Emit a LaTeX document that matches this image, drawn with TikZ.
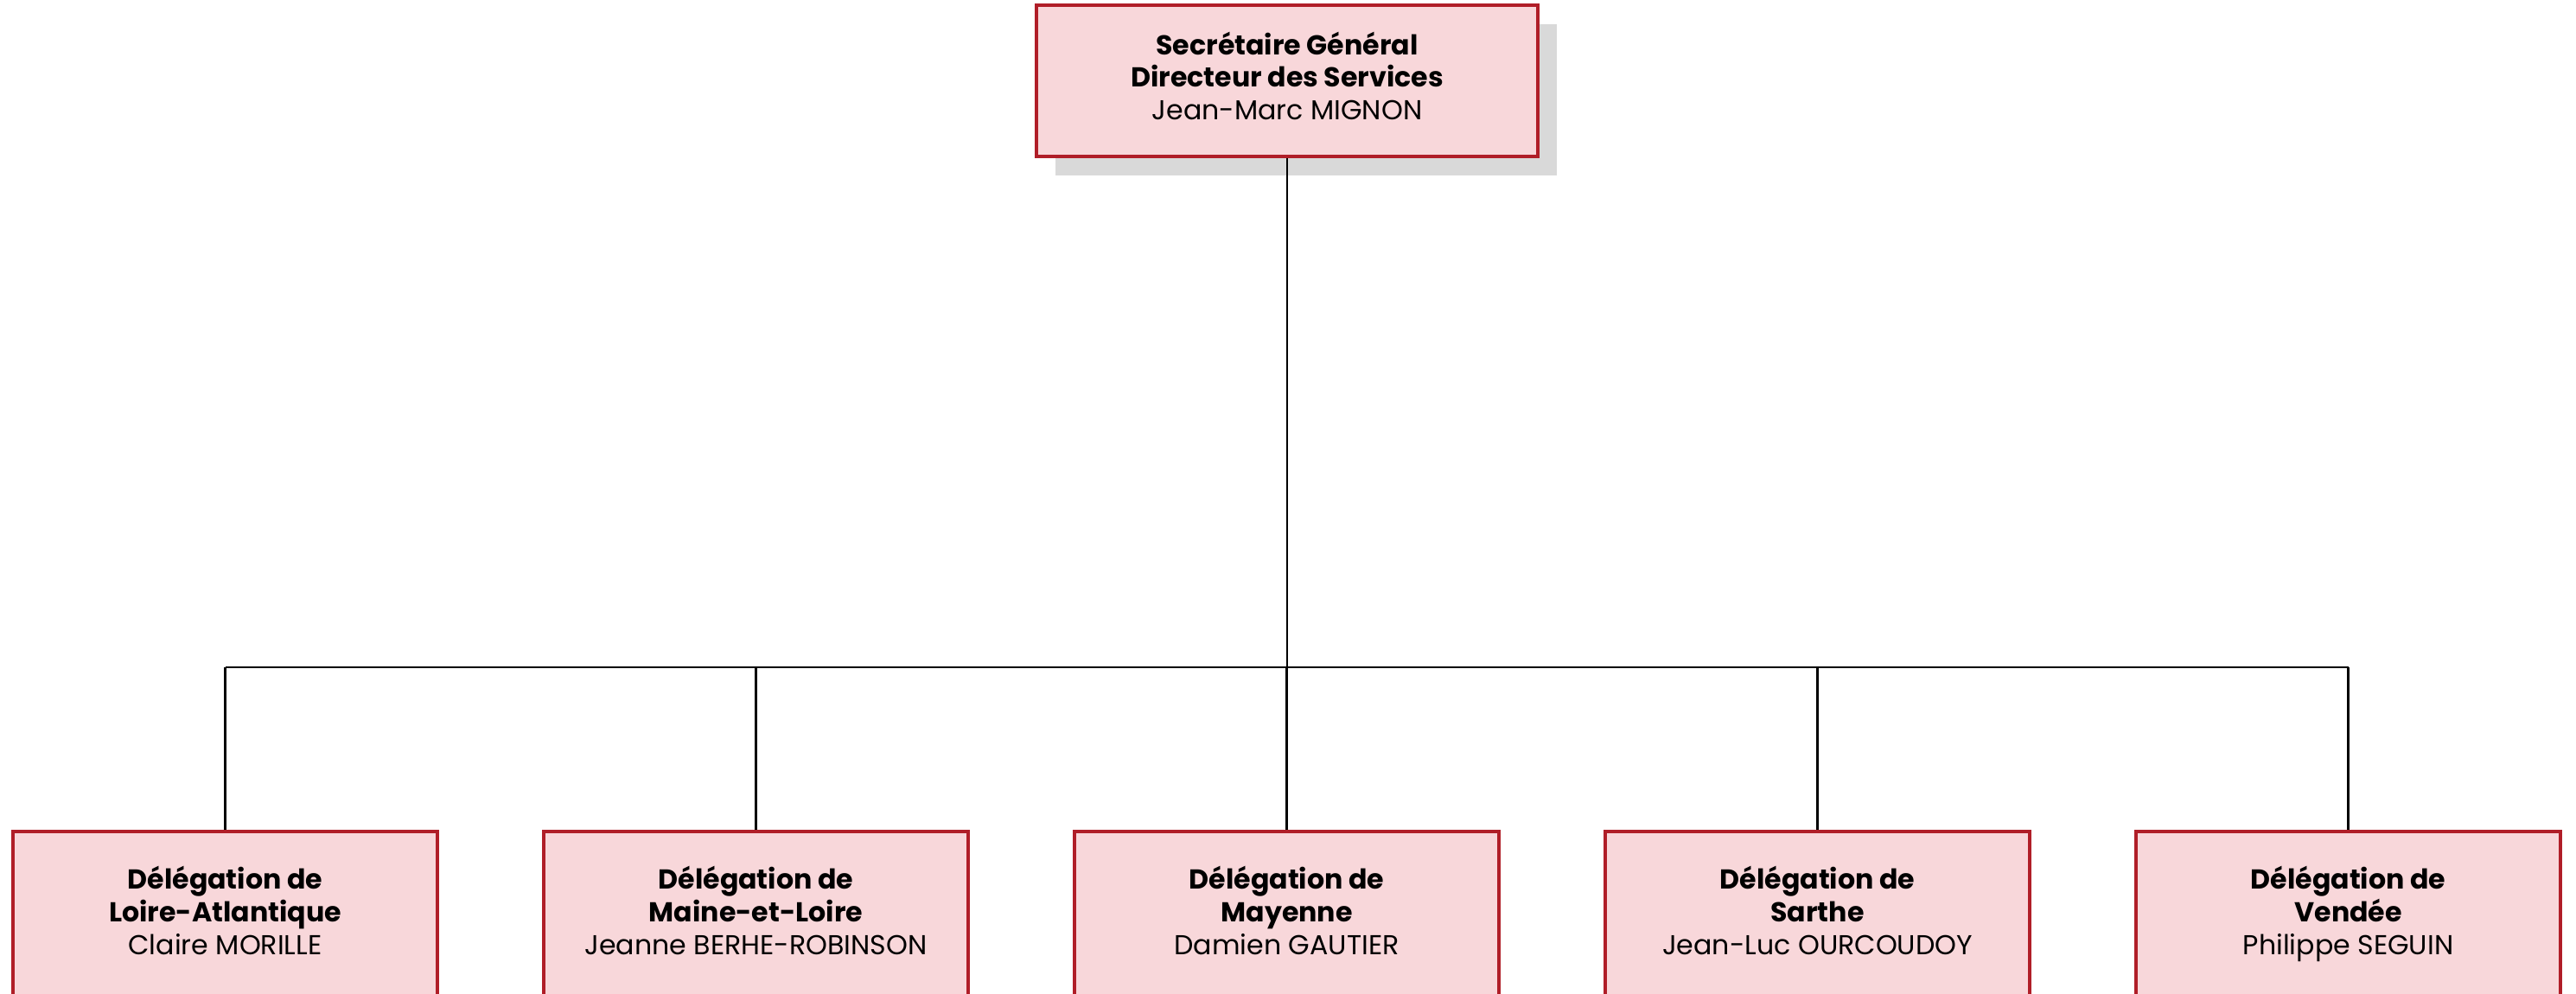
\documentclass[tikz,border=0pt]{standalone}
\usepackage{fontspec}
\setmainfont{Poppins}
\usetikzlibrary{positioning,calc,shadows}
\definecolor{boxfill}{RGB}{248,215,218}
\definecolor{boxline}{RGB}{176,30,40}
\newcommand{\chef}[1]{\textbf{#1}}

\begin{document}
\begin{tikzpicture}[font=\fontsize{9}{10.8}\selectfont]
\tikzstyle{unit}=[draw=boxline,fill=boxfill,line width=1pt,align=center,inner sep=0pt]
\tikzstyle{head}=[unit,minimum width=5.8cm,minimum height=1.75cm,
  drop shadow={shadow xshift=0.22cm,shadow yshift=-0.22cm,fill=gray!30,opacity=1}]
\tikzstyle{deleg}=[unit,minimum width=4.91cm,minimum height=1.94cm]
\tikzstyle{link}=[line width=0.7pt]
\useasboundingbox (0,0) rectangle (29.8,11.5);

\node[head] (sg) at (14.89,10.565) {\chef{Secrétaire Général}\\\chef{Directeur des Services}\\Jean-Marc MIGNON\strut};

\node[deleg] (la) at (2.605,0.91) {\chef{Délégation de}\\\chef{Loire-Atlantique}\\Claire MORILLE\strut};
\node[deleg,right=1.195cm of la] (ml) {\chef{Délégation de}\\\chef{Maine-et-Loire}\\Jeanne BERHE-ROBINSON\strut};
\node[deleg,right=1.195cm of ml] (my) {\chef{Délégation de}\\\chef{Mayenne}\\Damien GAUTIER\strut};
\node[deleg,right=1.195cm of my] (sa) {\chef{Délégation de}\\\chef{Sarthe}\\Jean-Luc OURCOUDOY\strut};
\node[deleg,right=1.195cm of sa] (ve) {\chef{Délégation de}\\\chef{Vendée}\\Philippe SEGUIN\strut};

% the bar between the levels
\coordinate (bar) at (0,3.78);
\draw[link] (sg.south) -- (sg.south |- bar);
\draw[link] (la.north |- bar) -- (ve.north |- bar);
\foreach \d in {la,ml,my,sa,ve}
  \draw[link] (\d.north) -- (\d.north |- bar);
\end{tikzpicture}
\end{document}
